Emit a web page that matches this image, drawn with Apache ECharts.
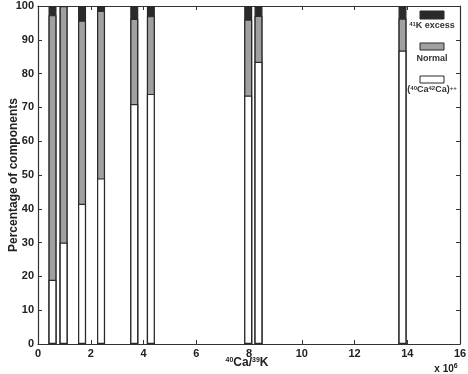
<!DOCTYPE html>
<html>
<head>
<meta charset="utf-8">
<script src="https://cdn.jsdelivr.net/npm/echarts@6/dist/echarts.min.js"></script>
<style>
html,body{margin:0;padding:0;background:#fff;}
#c{width:468px;height:374px;}
</style>
</head>
<body>
<div id="c"></div>
<script>
// Data
var positions = [0.55, 0.97, 1.67, 2.39, 3.65, 4.28, 7.97, 8.36, 13.82]; // 40Ca/39K (x 10^6)
var caDimer   = [19.0, 30.0, 41.5, 49.0, 71.0, 74.0, 73.5, 83.5, 86.8]; // (40Ca42Ca)++
var normal    = [78.3, 70.0, 54.2, 49.6, 25.2, 23.0, 22.5, 13.6, 9.5];  // Normal
var kExcess   = [2.7, 0.0, 4.3, 1.4, 3.8, 3.0, 4.0, 2.9, 3.7];          // 41K excess
var xTicks = [0, 2, 4, 6, 8, 10, 12, 14, 16];
var yTicks = [0, 10, 20, 30, 40, 50, 60, 70, 80, 90, 100];

// cumulative tops (segments are drawn as overlapping bars from 0)
function cumulative(layers) {
  return positions.map(function (p, i) {
    var s = 0;
    layers.forEach(function (l) { s += l[i]; });
    return [p, s];
  });
}

var FONT = '"Liberation Sans", Arial, Helvetica, sans-serif';
var AX = '#333';
var chart = echarts.init(document.getElementById('c'), null, {renderer: 'canvas'});

function barSeries(name, data, color, z) {
  return {
    name: name,
    type: 'bar',
    barWidth: 8,
    barGap: '-100%',
    data: data,
    z: z,
    itemStyle: {color: color, borderColor: '#2a2a2a', borderWidth: 1.2},
    emphasis: {disabled: true},
    animation: false
  };
}

var option = {
  animation: false,
  grid: {left: 38, right: 8, top: 6, bottom: 30, containLabel: false, outerBoundsMode: 'none'},
  xAxis: [{
    type: 'value', min: 0, max: 16, interval: 2, position: 'bottom',
    axisLine: {show: true, onZero: false, lineStyle: {color: AX, width: 1.2}},
    axisTick: {show: true, inside: true, length: 4, lineStyle: {color: AX}},
    axisLabel: {color: '#222', fontFamily: FONT, fontWeight: 'bold', fontSize: 11, margin: 4},
    splitLine: {show: false}
  }, {
    type: 'value', min: 0, max: 16, interval: 2, position: 'top',
    axisLine: {show: true, onZero: false, lineStyle: {color: AX, width: 1.2}},
    axisTick: {show: true, inside: true, length: 4, lineStyle: {color: AX}},
    axisLabel: {show: false},
    splitLine: {show: false}
  }],
  yAxis: [{
    type: 'value', min: 0, max: 100, interval: 10, position: 'left',
    name: 'Percentage of components', nameLocation: 'middle', nameGap: 18,
    nameMoveOverlap: false,
    nameTextStyle: {color: '#222', fontFamily: FONT, fontWeight: 'bold', fontSize: 12},
    axisLine: {show: true, onZero: false, lineStyle: {color: AX, width: 1.2}},
    axisTick: {show: true, inside: true, length: 4, lineStyle: {color: AX}},
    axisLabel: {color: '#222', fontFamily: FONT, fontWeight: 'bold', fontSize: 11, margin: 4},
    splitLine: {show: false}
  }, {
    type: 'value', min: 0, max: 100, interval: 10, position: 'right',
    axisLine: {show: true, onZero: false, lineStyle: {color: AX, width: 1.2}},
    axisTick: {show: true, inside: true, length: 4, lineStyle: {color: AX}},
    axisLabel: {show: false},
    splitLine: {show: false}
  }],
  series: [
    barSeries('41K excess', cumulative([caDimer, normal, kExcess]), '#2a2a2a', 2),
    barSeries('Normal', cumulative([caDimer, normal]), '#a0a0a0', 3),
    barSeries('(40Ca42Ca)++', cumulative([caDimer]), '#ffffff', 4)
  ],
  graphic: [
    // legend swatches
    {type: 'rect', shape: {x: 420, y: 11, width: 24, height: 8}, style: {fill: '#2a2a2a', stroke: '#2a2a2a', lineWidth: 1}, z: 10},
    {type: 'rect', shape: {x: 420, y: 43, width: 24, height: 7}, style: {fill: '#a0a0a0', stroke: '#2a2a2a', lineWidth: 1}, z: 10},
    {type: 'rect', shape: {x: 420, y: 76, width: 24, height: 7}, style: {fill: '#ffffff', stroke: '#2a2a2a', lineWidth: 1}, z: 10},
    {type: 'text', x: 432, y: 26, z: 10, style: {
      text: '{s|41}{t|K excess}', align: 'center', verticalAlign: 'middle',
      rich: {
        s: {fontSize: 6, fontWeight: 'bold', fontFamily: FONT, fill: '#333', padding: [0, 0, 4, 0]},
        t: {fontSize: 9, fontWeight: 'bold', fontFamily: FONT, fill: '#333'}
      }}},
    {type: 'text', x: 432, y: 58.5, z: 10, style: {
      text: 'Normal', align: 'center', verticalAlign: 'middle',
      font: 'bold 9px ' + FONT, fill: '#333'}},
    {type: 'text', x: 432, y: 90, z: 10, style: {
      text: '{t|(}{s|40}{t|Ca}{s|42}{t|Ca)}{s|++}', align: 'center', verticalAlign: 'middle',
      rich: {
        s: {fontSize: 6, fontWeight: 'bold', fontFamily: FONT, fill: '#333', padding: [0, 0, 4, 0]},
        t: {fontSize: 9, fontWeight: 'bold', fontFamily: FONT, fill: '#333'}
      }}},
    // x axis title
    {type: 'text', x: 247, y: 363, z: 10, style: {
      text: '{s|40}{t|Ca/}{s|39}{t|K}', align: 'center', verticalAlign: 'middle',
      rich: {
        s: {fontSize: 7, fontWeight: 'bold', fontFamily: FONT, fill: '#222', padding: [0, 0, 5, 0]},
        t: {fontSize: 12, fontWeight: 'bold', fontFamily: FONT, fill: '#222'}
      }}},
    // multiplier
    {type: 'text', x: 446, y: 369, z: 10, style: {
      text: '{t|x 10}{s|6}', align: 'center', verticalAlign: 'middle',
      rich: {
        s: {fontSize: 7, fontWeight: 'bold', fontFamily: FONT, fill: '#222', padding: [0, 0, 5, 0]},
        t: {fontSize: 10, fontWeight: 'bold', fontFamily: FONT, fill: '#222'}
      }}}
  ]
};
chart.setOption(option);
</script>
</body>
</html>
